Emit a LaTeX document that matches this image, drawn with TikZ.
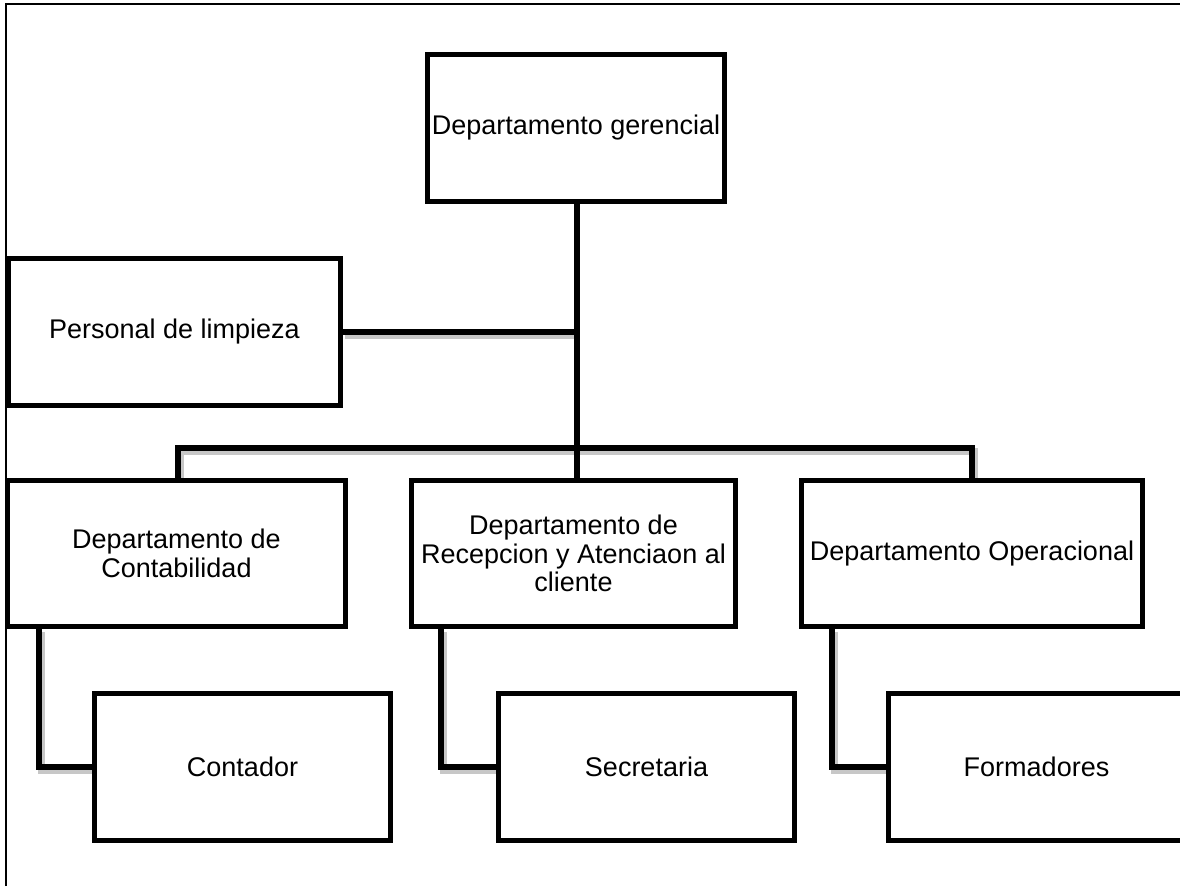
\documentclass[tikz,border=0pt]{standalone}
\usepackage{fontspec}
\setmainfont{Liberation Sans}
\usetikzlibrary{backgrounds}
\begin{document}
\begin{tikzpicture}[x=1pt,y=-1pt,
  orgbox/.style={draw=black,line width=5pt,fill=white,inner sep=0pt,align=center,
    font=\fontsize{27}{28.5}\selectfont,minimum height=147pt},
  link/.style={line width=6.5pt,black},
  linkshadow/.style={line width=7pt,black!22}]
\useasboundingbox (0,0) rectangle (1180,886);
% outer frame (partially visible)
\draw[line width=1.5pt] (6,886) -- (6,4) -- (1180,4);

% nodes
\node[orgbox,minimum width=297pt] (g) at (576,128) {Departamento gerencial};
\node[orgbox,minimum width=332pt] (p) at (174.5,332) {Personal de limpieza};
\node[orgbox,minimum width=338pt,minimum height=146pt] (c) at (176.5,553.5) {Departamento de\\Contabilidad};
\node[orgbox,minimum width=324pt,minimum height=146pt] (r) at (573.5,553.5) {Departamento de\\Recepcion y Atenciaon al\\cliente};
\node[orgbox,minimum width=341pt,minimum height=146pt] (o) at (972,553.5) {Departamento Operacional};
\node[orgbox,minimum width=296pt] (ct) at (242.5,767) {Contador};
\node[orgbox,minimum width=296pt] (s) at (646.5,767) {Secretaria};
\node[orgbox,minimum width=296pt] (f) at (1036.5,767) {Formadores};

\coordinate (bar) at (577,448);

\begin{scope}[on background layer]
  % shadows of connectors
  \begin{scope}[transform canvas={shift={(2pt,-3pt)}}]
  \draw[linkshadow] (p.east) -- (p.east -| bar);
  \draw[linkshadow] (c.north -| 178,0) |- (bar) -| (o.north);
  \draw[linkshadow] ([xshift=34pt]c.south west) |- (ct.west);
  \draw[linkshadow] ([xshift=32pt]r.south west) |- (s.west);
  \draw[linkshadow] ([xshift=33pt]o.south west) |- (f.west);
  \end{scope}
  % connectors
  \draw[link] (g.south -| bar) -- (r.north -| bar);
  \draw[link] (p.east) -- (p.east -| bar);
  \draw[link] (c.north -| 178,0) |- (bar) -| (o.north);
  \draw[link] ([xshift=34pt]c.south west) |- (ct.west);
  \draw[link] ([xshift=32pt]r.south west) |- (s.west);
  \draw[link] ([xshift=33pt]o.south west) |- (f.west);
\end{scope}
\end{tikzpicture}
\end{document}
